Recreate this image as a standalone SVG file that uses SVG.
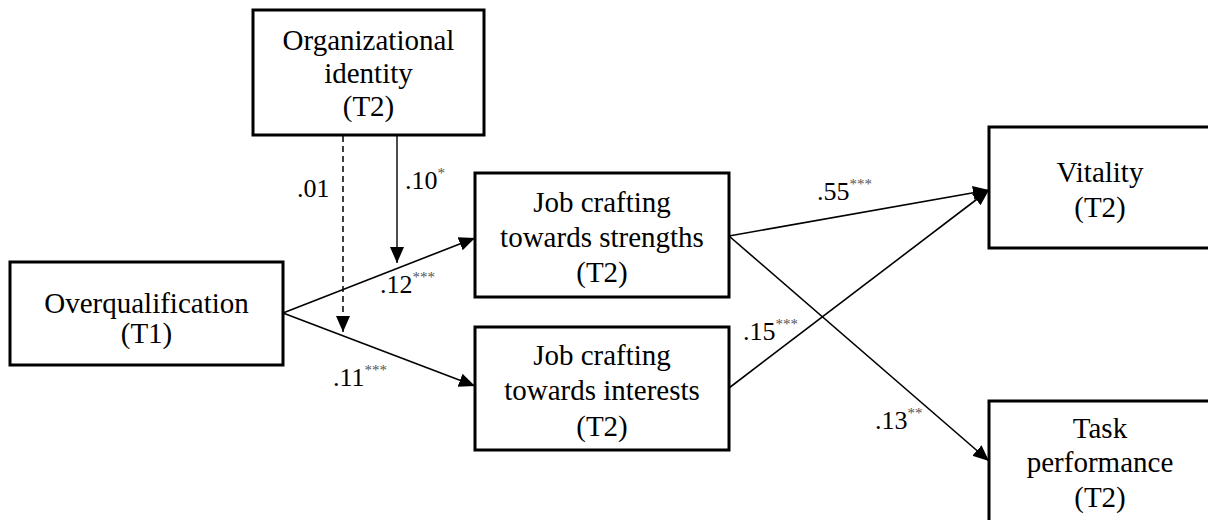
<svg xmlns="http://www.w3.org/2000/svg" width="1208" height="520" viewBox="0 0 1208 520">
  <style>
    text { font-family: "Liberation Serif", "Times New Roman", serif; }
    .box { fill: #ffffff; stroke: #000000; stroke-width: 3; }
    .lbl { font-size: 29px; fill: #000000; text-anchor: middle; }
    .coef { font-size: 26px; fill: #000000; }
    .sig { font-size: 15px; fill: #555555; }
    .path { fill: none; stroke: #000000; stroke-width: 1.6; marker-end: url(#head); }
    .mod { fill: none; stroke: #4d4d4d; stroke-width: 2; marker-end: url(#head); }
    .modns { fill: none; stroke: #000000; stroke-width: 1.5; stroke-dasharray: 6 4; marker-end: url(#head); }
  </style>
  <defs>
    <marker id="head" markerUnits="userSpaceOnUse" markerWidth="17" markerHeight="16" refX="16" refY="8" orient="auto">
      <path d="M0,1 L16,8 L0,15 z" fill="#000000"/>
    </marker>
  </defs>
  <rect width="1208" height="520" fill="#ffffff"/>

  <!-- paths between constructs -->
  <g id="connectors">
    <line class="path" x1="283" y1="313" x2="475" y2="238"/>
    <line class="path" x1="283" y1="313" x2="475" y2="386"/>
    <line class="mod" x1="397" y1="136" x2="397" y2="263"/>
    <line class="modns" x1="343" y1="136" x2="343" y2="332"/>
    <line class="path" x1="729" y1="236" x2="989" y2="190"/>
    <line class="path" x1="729" y1="388" x2="989" y2="190"/>
    <line class="path" x1="729" y1="236" x2="989" y2="461"/>
  </g>

  <!-- path coefficients with significance stars -->
  <g id="coefficients">
    <text class="coef" x="297" y="197">.01</text>
    <text class="coef" x="405" y="189">.10<tspan class="sig" dy="-11">*</tspan></text>
    <text class="coef" x="380" y="293">.12<tspan class="sig" dy="-11">***</tspan></text>
    <text class="coef" x="333" y="386">.11<tspan class="sig" dy="-11">***</tspan></text>
    <text class="coef" x="817" y="200">.55<tspan class="sig" dy="-11">***</tspan></text>
    <text class="coef" x="743" y="340">.15<tspan class="sig" dy="-11">***</tspan></text>
    <text class="coef" x="875" y="429">.13<tspan class="sig" dy="-11">**</tspan></text>
  </g>

  <g id="org-identity">
    <rect class="box" x="253" y="10" width="231" height="125"/>
    <text class="lbl" x="368.5" y="50">Organizational</text>
    <text class="lbl" x="368.5" y="83">identity</text>
    <text class="lbl" x="368.5" y="116">(T2)</text>
  </g>

  <g id="overqualification">
    <rect class="box" x="10" y="262" width="273" height="103"/>
    <text class="lbl" x="146.5" y="313">Overqualification</text>
    <text class="lbl" x="146.5" y="343">(T1)</text>
  </g>

  <g id="jc-strengths">
    <rect class="box" x="475" y="173" width="254" height="124"/>
    <text class="lbl" x="602" y="212">Job crafting</text>
    <text class="lbl" x="602" y="247">towards strengths</text>
    <text class="lbl" x="602" y="282">(T2)</text>
  </g>

  <g id="jc-interests">
    <rect class="box" x="475" y="327" width="254" height="123"/>
    <text class="lbl" x="602" y="365">Job crafting</text>
    <text class="lbl" x="602" y="400">towards interests</text>
    <text class="lbl" x="602" y="436">(T2)</text>
  </g>

  <g id="vitality">
    <rect class="box" x="989" y="127" width="240" height="121"/>
    <text class="lbl" x="1100" y="182">Vitality</text>
    <text class="lbl" x="1100" y="217">(T2)</text>
  </g>

  <g id="task-performance">
    <rect class="box" x="989" y="401" width="240" height="140"/>
    <text class="lbl" x="1100" y="438">Task</text>
    <text class="lbl" x="1100" y="472">performance</text>
    <text class="lbl" x="1100" y="507">(T2)</text>
  </g>
</svg>
